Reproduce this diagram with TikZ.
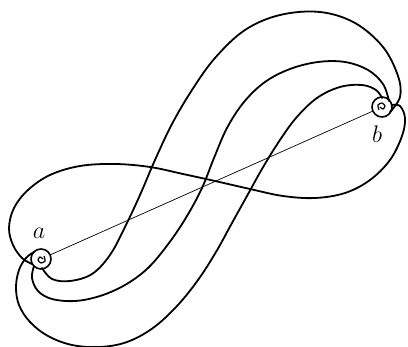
\documentclass[tikz,border=0pt]{standalone}
\usetikzlibrary{calc}
\begin{document}
\begin{tikzpicture}[
  x=0.5pt, y=-0.5pt,
  curve/.style={line width=0.9pt, line join=round, line cap=round},
  pole/.style={circle, draw, line width=0.8pt, minimum size=10pt, inner sep=0pt},
  curl/.style={line width=0.6pt},
  lbl/.style={font=\large, inner sep=0pt}
]
\useasboundingbox (0,0) rectangle (408,347);

% the two poles and their letters
\node[pole] (ptA) at (41,259) {};
\node[pole] (ptB) at (382,107) {};
\node[lbl] (labA) at (39,233) {$a$};
\node[lbl] (labB) at (377,134) {$b$};

\draw[curl] plot[smooth] coordinates {(43,259) (40,257) (38,260) (41,263) (45,261) (44,256)};
\draw[curl] plot[smooth] coordinates {(380,107) (383,109) (385,106) (382,103) (378,105) (379,110)};

% straight line a--b
\draw[line width=0.35pt] (ptA) -- (ptB);

% figure of eight
\draw[curve] plot[smooth, tension=0.6] coordinates {(32,264) (22,258) (13,245) (9,228) (14,208) (28,190)
  (50,175) (80,166) (115,164) (150,167) (183,174) (215,181) (250,189) (283,196) (315,198) (345,193)
  (370,180) (390,160) (402,136) (405,118) (400,106) (392,105)};

% outer at a, inner at b
\draw[curve] plot[smooth, tension=0.6] coordinates {(34,252) (26,258) (19,270) (16,287) (19,305) (30,322)
  (48,336) (72,345) (100,347) (127,342) (153,328) (177,306) (198,280) (216,252) (232,223) (247,196)
  (262,169) (278,143) (296,118) (317,98) (340,87) (362,85) (376,90) (382,98)};

% middle
\draw[curve] plot[smooth, tension=0.6] coordinates {(34,266) (32,278) (38,291) (52,299) (75,301) (100,296)
  (125,285) (148,268) (169,243) (187,216) (202,188) (214,158) (227,128) (244,102) (265,82) (290,69)
  (318,62) (345,62) (368,70) (383,84) (389,101)};

% inner at a, outer at b
\draw[curve] plot[smooth, tension=0.6] coordinates {(42,268) (52,279) (70,281) (92,274) (110,255) (125,227)
  (140,195) (155,160) (172,124) (192,90) (215,58) (245,30) (280,15) (320,12) (355,23) (383,47)
  (398,76) (400,97) (390,112)};

\end{tikzpicture}
\end{document}
